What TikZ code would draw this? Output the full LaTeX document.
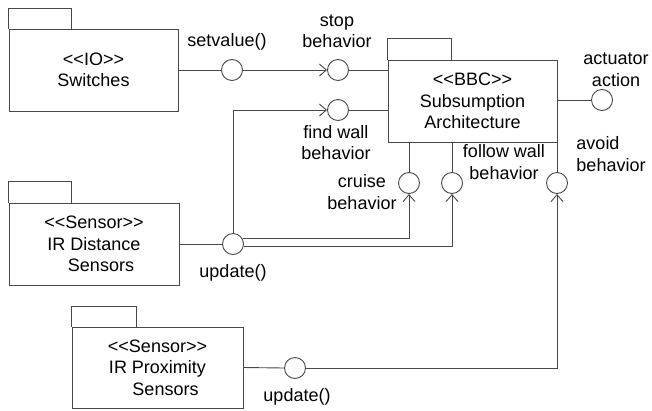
\documentclass[tikz,border=0pt]{standalone}
\usepackage{fontspec}
\setmainfont{Liberation Sans}[Ligatures=TeXOff]
\usetikzlibrary{arrows.meta}
\begin{document}
\begin{tikzpicture}[x=1pt,y=-1pt,color=black!72,line width=0.9pt,
  pkg/.style={draw,rectangle,inner sep=0pt,align=center,text=black,font=\fontsize{18}{21.5}\selectfont},
  tabline/.style={line width=0.8pt},
  iface/.style={draw,circle,fill=white,inner sep=0pt,minimum size=21pt},
  lbl/.style={inner sep=0pt,align=center,text=black,font=\fontsize{18}{21.5}\selectfont},
  arr/.style={-{Straight Barb[length=7pt,width=12pt]}}]
\useasboundingbox (0,0) rectangle (652,410);
% packages
\node[pkg,minimum width=169pt,minimum height=82pt] (sw) at (93.5,70) {<<IO>>\\Switches};
\draw[tabline] (sw.north west) -- ++(0,-20.3) -- ++(63,0) -- ++(0,20.3);
\node[pkg,minimum width=169pt,minimum height=82pt] (bbc) at (472.5,101) {<<BBC>>\\Subsumption\\Architecture};
\draw[tabline] (bbc.north west) -- ++(0,-20.8) -- ++(64,0) -- ++(0,20.8);
\node[pkg,minimum width=170pt,minimum height=82pt] (ird) at (94,244) {<<Sensor>>\\IR Distance\\\hspace*{14pt}Sensors};
\draw[tabline] (ird.north west) -- ++(0,-20.8) -- ++(63,0) -- ++(0,20.8);
\node[pkg,minimum width=171pt,minimum height=81pt] (irp) at (157.5,367.5) {<<Sensor>>\\IR Proximity\\\hspace*{16pt}Sensors};
\draw[tabline] (irp.north west) -- ++(0,-20.3) -- ++(65,0) -- ++(0,20.3);
% interfaces
\node[iface] (c1) at (232,70) {};
\node[iface] (c2) at (338,70) {};
\node[iface] (c3) at (338,110) {};
\node[iface] (c4) at (602,100) {};
\node[iface] (c5) at (233,244) {};
\node[iface] (c6) at (409,183) {};
\node[iface] (c7) at (452,183) {};
\node[iface] (c8) at (557,183) {};
\node[iface] (c9) at (295,368) {};
% connectors
\draw (sw.east) -- (c1.west);
\draw[arr] (c1.east) -- (c2.west);
\draw (c2.east) -- (c2.east -| bbc.west);
\draw (c3.east) -- (c3.east -| bbc.west);
\draw (c4.west -| bbc.east) -- (c4.west);
\draw (ird.east) -- (c5.west);
\draw[arr] (c5.north) |- (c3.west);
\draw[arr] (c5.28) -| (c6.south);
\draw[arr] (c5.-13) -| (c7.south);
\draw (c6.north) -- (c6.north |- bbc.south);
\draw (c7.north) -- (c7.north |- bbc.south);
\draw (c8.north) -- (c8.north |- bbc.south);
\draw (irp.east) -- (c9.west);
\draw[arr] (c9.east) -| (c8.south);
% labels
\node[lbl] (l1) at (227,42) {setvalue()};
\node[lbl] (l2) at (337,31.5) {stop\\behavior};
\node[lbl] (l3) at (336,142.5) {find wall\\behavior};
\node[lbl] (l4) at (616,70) {actuator\\action};
\node[lbl] (l5) at (362,192) {cruise\\behavior};
\node[lbl] (l6) at (504,162) {follow wall\\behavior};
\node[lbl,align=left] (l7) at (611,154) {avoid\\behavior};
\node[lbl] (l8) at (233,273) {update()};
\node[lbl] (l9) at (297,397) {update()};
\end{tikzpicture}
\end{document}
